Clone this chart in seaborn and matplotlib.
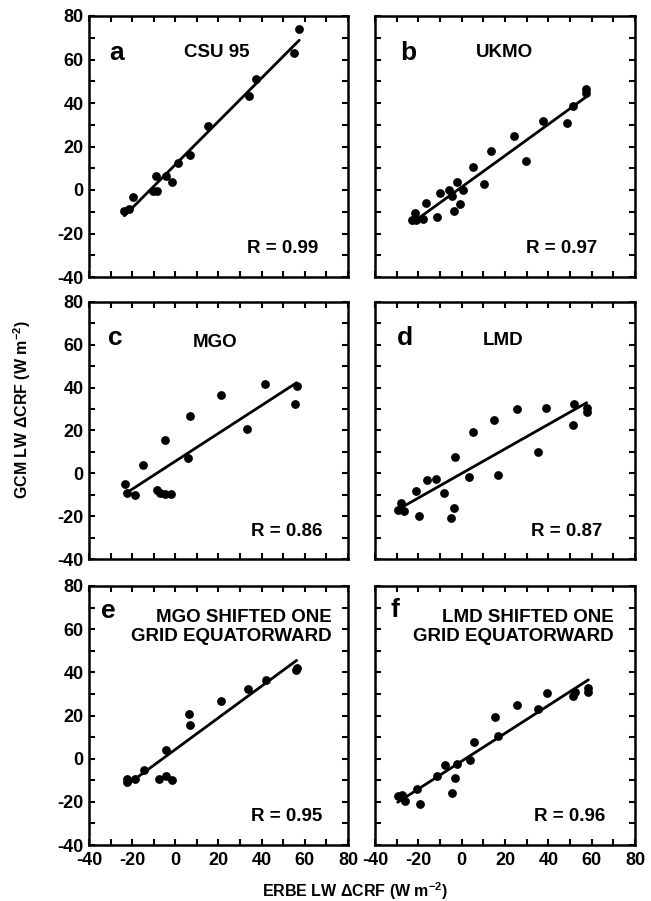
import matplotlib
matplotlib.use('Agg')
import matplotlib.pyplot as plt
from matplotlib.ticker import MultipleLocator
import seaborn as sns

# ERBE (x) vs GCM (y) LW delta CRF, W m-2
csu_x = [-23.6, -21.3, -19.4, -10.4, -8.5, -8.8, -4.5, -1.7, 1.3, 6.7, 15.0, 34.0, 37.6, 55.0, 57.4]
csu_y = [-9.7, -8.6, -3.0, -0.5, -0.5, 6.4, 6.4, 3.5, 12.5, 16.2, 29.2, 43.2, 51.2, 63.1, 73.9]

ukmo_x = [-23.1, -21.5, -21.1, -17.7, -16.5, -11.5, -10.0, -5.7, -4.6, -2.3, -3.4, -0.8,
          0.8, 5.1, 10.5, 13.5, 24.2, 29.7, 37.7, 48.5, 51.5, 57.4, 57.4]
ukmo_y = [-14.0, -10.6, -13.7, -13.4, -6.2, -12.4, -1.6, 0.0, -2.8, 3.7, -9.8, -6.5,
          0.0, 10.4, 2.6, 17.9, 24.8, 13.2, 31.7, 30.9, 38.8, 46.6, 44.6]

mgo_x = [-23.1, -22.6, -18.8, -14.9, -8.5, -6.9, -4.6, -1.8, -4.6, 5.8, 6.6, 21.2, 33.4, 41.5, 55.4, 56.2]
mgo_y = [-5.1, -9.0, -10.3, 3.9, -7.9, -9.3, -9.5, -9.5, 15.7, 7.3, 26.7, 36.4, 20.8, 41.8, 32.2, 40.7]

lmd_x = [-29.5, -28.0, -26.5, -21.1, -19.5, -16.2, -12.0, -8.0, -5.1, -3.5, -3.1, 3.5, 5.4,
         15.1, 16.6, 25.5, 35.1, 38.8, 51.5, 52.0, 57.7, 57.7]
lmd_y = [-17.1, -14.0, -17.6, -8.2, -19.9, -3.3, -2.5, -9.0, -20.7, -16.0, 7.8, -1.7, 19.4,
         24.7, -0.9, 29.9, 10.1, 30.6, 22.4, 32.5, 30.6, 28.6]

mgo_s_x = [-22.6, -22.3, -18.5, -14.6, -7.4, -4.3, -1.5, -4.3, 6.2, 6.9, 21.2, 33.8, 41.8, 55.7, 56.2]
mgo_s_y = [-9.3, -10.9, -9.3, -5.4, -9.3, -8.1, -9.8, 3.9, 20.9, 15.8, 26.8, 32.2, 36.4, 41.1, 41.9]

lmd_s_x = [-29.5, -27.7, -26.2, -20.8, -19.2, -11.5, -7.7, -3.1, -4.6, -2.3, 3.8, 5.8, 15.4,
           16.9, 25.7, 35.4, 39.2, 51.5, 52.3, 58.2, 58.5]
lmd_s_y = [-17.4, -16.7, -19.8, -14.0, -20.9, -8.1, -3.1, -9.0, -15.8, -2.3, -0.8, 7.8, 19.5,
           10.4, 24.8, 22.9, 30.2, 29.1, 31.0, 32.6, 30.7]

panel_letters = ['a', 'b', 'c', 'd', 'e', 'f']
panel_names = ['CSU 95', 'UKMO', 'MGO', 'LMD',
               'MGO SHIFTED ONE\nGRID EQUATORWARD', 'LMD SHIFTED ONE\nGRID EQUATORWARD']
r_values = ['0.99', '0.97', '0.86', '0.87', '0.95', '0.96']
xs = [csu_x, ukmo_x, mgo_x, lmd_x, mgo_s_x, lmd_s_x]
ys = [csu_y, ukmo_y, mgo_y, lmd_y, mgo_s_y, lmd_s_y]

sns.set_style('ticks')
plt.rcParams['font.family'] = ['Liberation Sans', 'DejaVu Sans']
plt.rcParams['font.weight'] = 'bold'
plt.rcParams['axes.unicode_minus'] = False
plt.rcParams['mathtext.fontset'] = 'custom'
plt.rcParams['mathtext.rm'] = 'Liberation Sans:bold'
plt.rcParams['mathtext.bf'] = 'Liberation Sans:bold'
plt.rcParams['mathtext.default'] = 'rm'
for k in ['text.color', 'axes.labelcolor', 'xtick.color', 'ytick.color', 'axes.edgecolor']:
    plt.rcParams[k] = 'black'

fig = plt.figure(figsize=(6.51, 9.01), dpi=100)
W, H = 651, 901
col_left = [89, 375]
col_w = [259, 260]
row_top = [16, 302, 586]
row_bottom = [277, 559, 845]

# text placement per panel (data coords)
letter_pos = [(-27, 63), (-24.5, 63), (-28, 63), (-26, 63), (-31, 68.5), (-31, 69)]
name_pos = [(19.3, 63), (19.6, 63), (18.3, 61), (19, 62), (72.5, 61), (70, 61)]
r_pos = [(66, -27), (62.5, -27), (68, -27), (65, -27), (68, -27), (66.5, -27)]

for i in range(6):
    r, c = divmod(i, 2)
    ax = fig.add_axes([col_left[c] / W, 1 - row_bottom[r] / H, col_w[c] / W,
                       (row_bottom[r] - row_top[r]) / H])
    sns.regplot(x=xs[i], y=ys[i], ax=ax, ci=None, truncate=True, color='black',
                scatter_kws=dict(s=40, linewidths=0, alpha=1),
                line_kws=dict(lw=2.0))
    ax.set_xlim(-40, 80)
    ax.set_ylim(-40, 80)
    ax.set_xticks(range(-40, 81, 20))
    ax.set_yticks(range(-40, 81, 20))
    ax.xaxis.set_minor_locator(MultipleLocator(10))
    ax.yaxis.set_minor_locator(MultipleLocator(10))
    ax.tick_params(which='both', direction='in', top=True, right=True,
                   length=4, width=1.5, labelsize=13)
    ax.tick_params(axis='x', pad=5)
    ax.tick_params(axis='y', pad=4)
    for s in ax.spines.values():
        s.set_linewidth(1.8)
    if c == 1:
        ax.set_yticklabels([])
    if r < 2:
        ax.set_xticklabels([])
    for lab in ax.get_xticklabels() + ax.get_yticklabels():
        lab.set_fontweight('bold')

    ax.text(*letter_pos[i], panel_letters[i], fontsize=19, fontweight='bold',
            ha='center', va='center')
    ax.text(*name_pos[i], panel_names[i], fontsize=13.5, fontweight='bold',
            ha='center' if r < 2 else 'right', va='center', linespacing=1.1)
    ax.text(*r_pos[i], 'R = ' + r_values[i], fontsize=13.5,
            fontweight='bold', ha='right', va='center')

fig.text(22 / W, 1 - 410 / H, r'GCM LW $\Delta$CRF (W m$^{-2}$)', rotation=90,
         ha='center', va='center', fontsize=11.5, fontweight='bold')
fig.text(355 / W, 1 - 891 / H, r'ERBE LW $\Delta$CRF (W m$^{-2}$)', ha='center', va='center',
         fontsize=11.5, fontweight='bold')

fig.savefig('out.png', dpi=100)
